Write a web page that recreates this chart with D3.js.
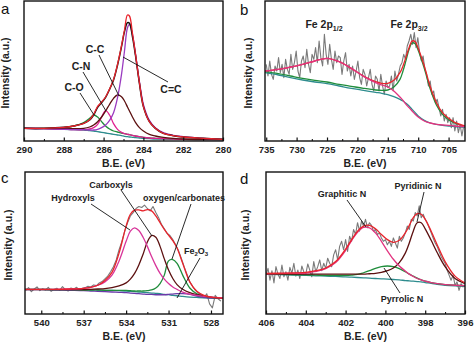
<!DOCTYPE html>
<html>
<head>
<meta charset="utf-8">
<script src="https://cdn.jsdelivr.net/npm/d3@7"></script>
<style>
body { margin: 0; background: #fff; }
svg { display: block; font-family: "Liberation Sans", Arial, sans-serif; }
</style>
</head>
<body>
<svg id="chart" width="474" height="342"></svg>
<script>
// ---- panel a : C 1s ----
var aE     = [290, 289, 288, 287.5, 287, 286.7, 286.5, 286.3, 286.1, 285.9, 285.7, 285.5, 285.3, 285.1, 284.95, 284.8, 284.7, 284.55, 284.4, 284.2, 284, 283.7, 283.4, 283, 282.5, 282, 281, 280];
var aData  = [38, 38, 41, 45, 53, 63, 78, 101, 115, 131, 155, 183, 228, 283, 328, 355, 353, 313, 258, 173, 103, 58, 38, 23, 16, 12, 8, 5];
var aFit   = [38, 38, 41, 45, 53, 64, 80, 104, 117, 132, 156, 185, 230, 286, 333, 378, 375, 323, 262, 175, 104, 58, 38, 23, 16, 12, 8, 5];
var aCdC   = [38, 37, 35, 34, 34, 33, 33, 35, 40, 48, 62, 85, 130, 200, 270, 340, 350, 320, 262, 178, 110, 62, 40, 25, 17, 13, 8, 5];
var aCC    = [38, 37, 37, 37, 38, 42, 48, 58, 72, 90, 110, 128, 138, 133, 120, 102, 90, 72, 56, 40, 30, 20, 15, 11, 8, 6, 5, 4];
var aCN    = [38, 37, 35, 34, 34, 36, 40, 50, 72, 91, 78, 52, 35, 26, 22, 20, 19, 17, 15, 13, 11, 9, 8, 7, 6, 5, 4, 4];
var aCO    = [38, 38, 40, 45, 55, 68, 78, 72, 58, 45, 36, 30, 27, 24, 22, 20, 19, 17, 15, 13, 11, 9, 8, 7, 6, 5, 4, 4];
var aBg    = [38, 37, 35, 34, 33, 31, 30, 28, 26, 24, 22, 20, 18, 16, 14, 13, 12, 11, 10, 9, 8, 7, 6, 6, 5, 5, 4, 4];
var aTicks = [290, 288, 286, 284, 282, 280];

// ---- panel b : Fe 2p ----
var bE     = [735.2, 733, 731, 729, 727, 725, 723, 721, 719, 717, 716, 715, 714, 713, 712.5, 712, 711.5, 711, 710.5, 710, 709, 708, 707, 706, 705, 704, 702.3];
var bFit   = [210, 215, 222, 230, 240, 248, 238, 218, 195, 178, 173, 173, 182, 205, 225, 252, 280, 300, 298, 278, 225, 162, 115, 85, 68, 56, 45];
var bP12   = [210, 215, 222, 230, 240, 248, 238, 218, 194, 175, 168, 162, 150, 132, 122, 110, 100, 90, 80, 72, 60, 54, 50, 48, 47, 45, 43];
var bP32   = [208, 202, 195, 188, 182, 177, 170, 164, 158, 153, 152, 153, 162, 185, 210, 242, 275, 294, 292, 272, 218, 155, 108, 80, 64, 54, 44];
var bBg    = [205, 198, 190, 183, 177, 172, 165, 158, 152, 146, 143, 139, 133, 125, 120, 113, 105, 95, 85, 75, 62, 54, 50, 47, 45, 43, 41];
var bRawStart = 735, bRawStep = 0.29;
var bRaw = [230, 195, 240, 200, 185, 225, 210,
            250, 205, 230, 190, 245, 215, 200,
            260, 215, 235, 270, 210, 190, 240,
            255, 220, 275, 230, 205, 260, 245,
            280, 235, 300, 250, 225, 320, 260,
            230, 290, 245, 215, 270, 235, 255,
            250, 200, 240, 265, 210, 230, 195,
            225, 185, 210, 240, 190, 170, 215,
            200, 165, 190, 215, 170, 150, 195,
            185, 150, 200, 165, 140, 180, 160,
            165, 195, 150, 210, 180, 200, 225,
            235, 260, 245, 285, 300, 320, 290,
            325, 280, 310, 265, 240, 255, 215,
            200, 165, 180, 140, 150, 115, 125,
            100, 75, 95, 60, 80, 55, 70,
            40, 70, 30, 60, 25, 50, 15, 45];
var bTicks = [735, 730, 725, 720, 715, 710, 705];

// ---- panel c : O 1s ----
var cE     = [541.15, 540, 539, 538, 537, 536.5, 536, 535.5, 535, 534.5, 534, 533.7, 533.4, 533.1, 532.8, 532.5, 532.2, 531.9, 531.6, 531.3, 531, 530.7, 530.4, 530, 529.5, 529, 528.5, 528, 527.15];
var cFit   = [73, 73, 73, 74, 76, 79, 85, 99, 123, 180, 260, 295, 307, 308, 305, 309, 305, 290, 270, 250, 233, 217, 195, 150, 95, 67, 55, 50, 47];
var cHyd   = [73, 73, 73, 74, 76, 79, 85, 95, 115, 157, 215, 245, 255, 247, 227, 200, 170, 143, 120, 103, 90, 80, 73, 65, 59, 55, 52, 50, 48];
var cCarb  = [72, 72, 72, 72, 72, 73, 74, 75, 78, 83, 92, 103, 120, 145, 177, 213, 232, 227, 200, 163, 130, 105, 87, 73, 63, 57, 53, 50, 47];
var cOxy   = [73, 73, 72, 72, 71, 71, 71, 70, 70, 70, 70, 69, 68, 68, 68, 69, 71, 77, 90, 115, 157, 161, 150, 115, 77, 60, 53, 49, 47];
var cFeO   = [72, 72, 71, 70, 69, 68, 67, 66, 65, 64, 63, 62, 61, 60, 59, 58, 58, 57, 57, 57, 58, 59, 60, 60, 58, 53, 49, 47, 46];
var cBg    = [73, 73, 72, 72, 71, 71, 71, 70, 70, 69, 68, 67, 66, 65, 64, 63, 62, 61, 60, 58, 57, 55, 54, 52, 50, 49, 48, 47, 46];
var cRawStart = 541.1, cRawStep = 0.2;
var cRaw = [70, 78, 66, 74, 80, 69, 75, 71, 79, 67, 73,
            76, 70, 81, 72, 68, 77, 74, 79, 71, 76,
            78, 82, 80, 86, 84, 92, 96, 104, 112, 125,
            140, 160, 190, 215, 245, 270, 290, 300, 312, 318,
            315, 322, 312, 305, 318, 300, 285, 265, 252, 238,
            232, 220, 205, 188, 165, 140, 118, 95, 82, 70,
            62, 58, 48, 60, 30, 18, 55, 45, 38];
var cTicks = [540, 537, 534, 531, 528];

// ---- panel d : N 1s ----
var dE     = [406, 405, 404, 403.5, 403, 402.5, 402, 401.7, 401.4, 401.1, 400.8, 400.5, 400.2, 399.9, 399.6, 399.3, 399, 398.8, 398.6, 398.4, 398.2, 398, 397.7, 397.4, 397, 396.5, 396];
var dFit   = [120, 121, 123, 128, 136, 155, 192, 220, 245, 260, 262, 252, 235, 220, 212, 218, 240, 262, 285, 297, 295, 280, 245, 205, 155, 112, 92];
var dGra   = [119, 120, 121, 126, 134, 152, 188, 217, 242, 256, 255, 240, 215, 187, 162, 142, 127, 118, 111, 105, 101, 97, 93, 90, 87, 85, 84];
var dPyrr  = [118, 117, 116, 115, 114, 114, 114, 115, 117, 122, 128, 135, 140, 142, 140, 134, 125, 118, 112, 106, 101, 97, 93, 90, 87, 85, 84];
var dPyri  = [118, 118, 118, 118, 118, 118, 118, 118, 118, 118, 119, 120, 123, 128, 136, 152, 180, 210, 245, 270, 270, 252, 218, 182, 140, 105, 90];
var dBg    = [118, 116, 114, 113, 112, 111, 110, 109, 108, 107, 106, 105, 104, 103, 102, 101, 99, 98, 97, 96, 95, 93, 91, 88, 85, 83, 82];
var dRawStart = 406, dRawStep = 0.1;
var dRaw = [115, 135, 100, 128, 92, 140, 118, 105, 145, 110,
            125, 100, 138, 120, 150, 112, 130, 105, 142, 125,
            118, 148, 130, 110, 155, 125, 140, 160, 128, 150,
            135, 165, 150, 140, 175, 190, 160, 200, 215, 190,
            220, 185, 230, 215, 250, 235, 270, 245, 275, 260,
            280, 255, 270, 262, 245, 250, 235, 240, 225, 215,
            220, 205, 215, 200, 225, 210, 195, 230, 215, 225,
            240, 260, 250, 280, 275, 300, 290, 320, 285, 295,
            280, 270, 255, 240, 225, 210, 200, 185, 170, 160,
            150, 130, 115, 100, 115, 85, 95, 70, 90, 80,
            85];
var dTicks = [406, 404, 402, 400, 398, 396];

var RED = "#e8232b", PINK = "#e2337f", PURPLE = "#9a3bc0", MAROON = "#5c1010",
    GREEN = "#1f8d3b", TEAL = "#2e8c8e", GRAY = "#7a7a7a";

var svg = d3.select("#chart");
var clipN = 0;

function panel(opt) {
  var x = d3.scaleLinear().domain(opt.domain).range([opt.left, opt.right]);
  var y = d3.scaleLinear().domain([0, 420]).range([opt.bottom, opt.top]);
  var g = svg.append("g");

  var id = "clip" + (clipN++);
  g.append("clipPath").attr("id", id).append("rect")
    .attr("x", opt.left).attr("y", opt.top)
    .attr("width", opt.right - opt.left).attr("height", opt.bottom - opt.top);
  var plot = g.append("g").attr("clip-path", "url(#" + id + ")");

  opt.series.forEach(function (s) {
    var pts = s.values.map(function (v, i) { return [s.x[i], v]; });
    var line = d3.line()
      .x(function (d) { return x(d[0]); })
      .y(function (d) { return y(d[1]); })
      .curve(s.raw ? d3.curveLinear : d3.curveCatmullRom.alpha(0.5));
    plot.append("path").datum(pts)
      .attr("d", line)
      .attr("fill", "none")
      .attr("stroke", s.color)
      .attr("stroke-width", s.width || 1.3)
      .attr("stroke-linejoin", "round");
  });

  // minor ticks halfway between the labelled ones
  var minor = [];
  for (var i = 0; i < opt.ticks.length - 1; i++) minor.push((opt.ticks[i] + opt.ticks[i + 1]) / 2);
  g.append("g").attr("transform", "translate(0," + opt.bottom + ")")
    .call(d3.axisBottom(x).tickValues(minor).tickSize(-2).tickFormat(""))
    .call(function (a) { a.select(".domain").remove(); });

  var ax = g.append("g").attr("transform", "translate(0," + opt.bottom + ")")
    .call(d3.axisBottom(x).tickValues(opt.ticks).tickSize(-3.5).tickPadding(5).tickFormat(d3.format("d")));
  ax.select(".domain").remove();
  ax.selectAll("line").attr("stroke", "#111").attr("stroke-width", 1.2);
  ax.selectAll("text")
    .attr("font-family", "'Liberation Sans', Arial, sans-serif")
    .attr("font-size", 9.5).attr("font-weight", "bold").attr("fill", "#222");

  g.append("rect")
    .attr("x", opt.left).attr("y", opt.top)
    .attr("width", opt.right - opt.left).attr("height", opt.bottom - opt.top)
    .attr("fill", "none").attr("stroke", "#111").attr("stroke-width", 1.4);

  g.append("text")
    .attr("x", (opt.left + opt.right) / 2).attr("y", opt.bottom + 26)
    .attr("text-anchor", "middle").attr("font-size", 10.5).attr("font-weight", "bold")
    .attr("fill", "#222").text("B.E. (eV)");

  var cy = (opt.top + opt.bottom) / 2 + 2;
  g.append("text")
    .attr("transform", "translate(" + (opt.left - opt.ylab) + "," + cy + ") rotate(-90)")
    .attr("text-anchor", "middle").attr("font-size", 10.5).attr("font-weight", "bold")
    .attr("fill", "#222").text("Intensity (a.u.)");

  g.append("text")
    .attr("x", opt.letter[0]).attr("y", opt.letter[1])
    .attr("font-size", 15).attr("fill", "#111").text(opt.name);

  return g;
}

function label(g, txt, x, y, size) {
  return g.append("text").attr("x", x).attr("y", y)
    .attr("text-anchor", "middle").attr("font-size", size || 9.5)
    .attr("font-weight", "bold").attr("fill", "#222").text(txt);
}
function leader(g, x1, y1, x2, y2) {
  g.append("line").attr("x1", x1).attr("y1", y1).attr("x2", x2).attr("y2", y2)
    .attr("stroke", "#111").attr("stroke-width", 0.9);
}

// panel a
var ga = panel({
  name: "a", letter: [1, 14], left: 24, right: 223, top: 1, bottom: 141, ylab: 15,
  domain: [290, 280], ticks: aTicks,
  series: [
    { x: aE, values: aBg, color: TEAL },
    { x: aE, values: aCO, color: GREEN },
    { x: aE, values: aCN, color: "#e0208f" },
    { x: aE, values: aCC, color: MAROON },
    { x: aE, values: aCdC, color: PURPLE },
    { x: aE, values: aData, color: "#111", width: 1.5 },
    { x: aE, values: aFit, color: RED }
  ]
});
label(ga, "C-C", 95, 53, 10.5);
label(ga, "C-N", 81, 70, 10.5);
label(ga, "C-O", 74, 91, 10.5);
label(ga, "C=C", 171, 93, 10.5);
leader(ga, 99, 55, 119, 96);
leader(ga, 83, 72, 106, 111);
leader(ga, 80, 93, 94, 115);
leader(ga, 123, 57, 168, 82);

// panel b
var gb = panel({
  name: "b", letter: [240, 15], left: 265, right: 465, top: 1, bottom: 141, ylab: 13,
  domain: [735.2, 702.3], ticks: bTicks,
  series: [
    { x: bRaw.map(function (v, i) { return bRawStart - i * bRawStep; }), values: bRaw, color: GRAY, width: 1.1, raw: true },
    { x: bE, values: bBg, color: TEAL },
    { x: bE, values: bP32, color: GREEN },
    { x: bE, values: bFit, color: RED },
    { x: bE, values: bP12, color: PINK }
  ]
});
var t1 = label(gb, "Fe 2p", 324, 28, 10.5);
t1.append("tspan").attr("font-size", 7).attr("dy", 3).text("1/2");
var t2 = label(gb, "Fe 2p", 409, 28, 10.5);
t2.append("tspan").attr("font-size", 7).attr("dy", 3).text("3/2");

// panel c
var gc = panel({
  name: "c", letter: [1, 183], left: 25, right: 223, top: 172, bottom: 314, ylab: 13,
  domain: [541.15, 527.15], ticks: cTicks,
  series: [
    { x: cRaw.map(function (v, i) { return cRawStart - i * cRawStep; }), values: cRaw, color: GRAY, width: 1.1, raw: true },
    { x: cE, values: cBg, color: TEAL },
    { x: cE, values: cFeO, color: "#6a3aa8" },
    { x: cE, values: cOxy, color: GREEN },
    { x: cE, values: cCarb, color: MAROON },
    { x: cE, values: cHyd, color: "#d8359a" },
    { x: cE, values: cFit, color: RED }
  ]
});
label(gc, "Carboxyls", 111, 188, 9);
label(gc, "Hydroxyls", 73, 201, 9);
label(gc, "oxygen/carbonates", 184, 201, 9);
var t3 = label(gc, "Fe", 196, 254, 9);
t3.append("tspan").attr("font-size", 6).attr("dy", 2).text("2");
t3.append("tspan").attr("dy", -2).text("O");
t3.append("tspan").attr("font-size", 6).attr("dy", 2).text("3");
leader(gc, 91, 204, 130, 230);
leader(gc, 121, 190, 152, 236);
leader(gc, 191, 204, 172, 259);
leader(gc, 200, 258, 177, 298);

// panel d
var gd = panel({
  name: "d", letter: [240, 184], left: 266, right: 465, top: 172, bottom: 314, ylab: 17,
  domain: [406, 396], ticks: dTicks,
  series: [
    { x: dRaw.map(function (v, i) { return dRawStart - i * dRawStep; }), values: dRaw, color: GRAY, width: 1.1, raw: true },
    { x: dE, values: dBg, color: TEAL },
    { x: dE, values: dPyrr, color: GREEN },
    { x: dE, values: dPyri, color: MAROON },
    { x: dE, values: dGra, color: PINK },
    { x: dE, values: dFit, color: RED }
  ]
});
label(gd, "Graphitic N", 342, 197, 9);
label(gd, "Pyridinic N", 418, 189, 9);
label(gd, "Pyrrolic N", 402, 302, 9);
leader(gd, 347, 200, 366, 227);
leader(gd, 424, 192, 417, 222);
leader(gd, 384, 268, 400, 293);
</script>
</body>
</html>
